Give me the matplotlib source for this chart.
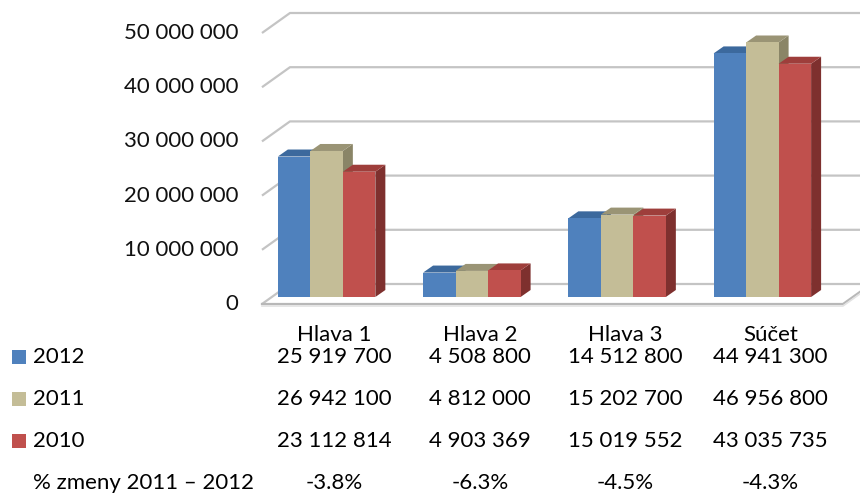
import matplotlib.pyplot as plt
from matplotlib.patches import Polygon, Rectangle
from matplotlib.transforms import blended_transform_factory

categories = ['Hlava 1', 'Hlava 2', 'Hlava 3', 'Súčet']
series_names = ['2012', '2011', '2010']
v2012 = [25919700, 4508800, 14512800, 44941300]
v2011 = [26942100, 4812000, 15202700, 46956800]
v2010 = [23112814, 4903369, 15019552, 43035735]
pct_label = '% zmeny 2011 – 2012'
pct_change = ['-3.8%', '-6.3%', '-4.5%', '-4.3%']
y_ticks = [0, 10000000, 20000000, 30000000, 40000000, 50000000]

front_col = ['#4F81BD', '#C4BD97', '#C0504D']
top_col = ['#3C699D', '#9A9475', '#9E3E3B']
side_col = ['#33577F', '#8A8567', '#7E302E']

plt.rcParams['font.family'] = ['Lato', 'DejaVu Sans']

W, H = 860, 493
fig = plt.figure(figsize=(W / 100, H / 100), dpi=100)
ax = fig.add_axes([0, 0, 1, 1])

# pixel scale of the chart: category step and value step
px_x = 145.25
px_v = 5.42e-6
x_left = -334.6 / px_x
y_top = 297 / px_v
ax.set_xlim(x_left, x_left + W / px_x)
ax.set_ylim(y_top - H / px_v, y_top)
ax.axis('off')

def dx(p):
    return p / px_x

def dy(p):
    return p / px_v

f = -dy(7)       # front edge of floor relative to bar base
wdx, wdy = dx(28), dy(20)   # wall depth
grid_c = '#C4C4C4'

# back wall gridlines
for g in y_ticks:
    ax.plot([-0.5, -0.5 + wdx, 3.8], [g + f, g + f + wdy, g + f + wdy],
            color=grid_c, lw=1.6, zorder=1, solid_capstyle='butt')
    lab = '0' if g == 0 else f'{g:,}'.replace(',', ' ')
    ax.text(-0.665, g + f, lab, ha='right', va='center', fontsize=16, color='#111111')

# floor
ax.plot([-0.5, 3.5, 3.5 + wdx], [f, f, f + wdy], color='#B8B8B8', lw=1.6, zorder=1)
ax.plot([-0.5, 3.5, 3.5 + wdx], [f - dy(2), f - dy(2), f + wdy - dy(2)],
        color='#E2E2E2', lw=1.2, zorder=1)

# 3d-looking bars
vals = [v2012, v2011, v2010]
w = dx(32.5)
bdx, bdy = dx(10), dy(7)
for i in range(len(categories)):
    for s in range(3):
        x0 = i - dx(8) + (s - 1.5) * w
        x1 = x0 + w
        h = vals[s][i]
        ax.add_patch(Polygon([(x1, 0), (x1 + bdx, bdy), (x1 + bdx, h + bdy), (x1, h)],
                             closed=True, fc=side_col[s], ec='none', zorder=3))
        ax.add_patch(Polygon([(x0, h), (x1, h), (x1 + bdx, h + bdy), (x0 + bdx, h + bdy)],
                             closed=True, fc=top_col[s], ec='none', zorder=3))
        ax.add_patch(Polygon([(x0, 0), (x1, 0), (x1, h), (x0, h)],
                             closed=True, fc=front_col[s], ec='none', zorder=3))

# data table under the chart
tr = blended_transform_factory(ax.transData, fig.transFigure)
row_y = [357, 399, 441]
for i, c in enumerate(categories):
    ax.text(i, 1 - 335 / H, c, transform=tr, ha='center', va='center', fontsize=16)
    for s in range(3):
        ax.text(i, 1 - row_y[s] / H, f'{vals[s][i]:,}'.replace(',', ' '),
                transform=tr, ha='center', va='center', fontsize=16)
    ax.text(i, 1 - 483 / H, pct_change[i], transform=tr, ha='center', va='center', fontsize=16)

for s in range(3):
    fig.patches.append(Rectangle((12 / W, 1 - (row_y[s] + 7) / H), 14 / W, 14 / H,
                                 transform=fig.transFigure, fc=front_col[s], ec='none'))
    fig.text(33 / W, 1 - row_y[s] / H, series_names[s], ha='left', va='center', fontsize=16)
fig.text(33 / W, 1 - 483 / H, pct_label, ha='left', va='center', fontsize=16)

fig.savefig('out.png', dpi=100)
